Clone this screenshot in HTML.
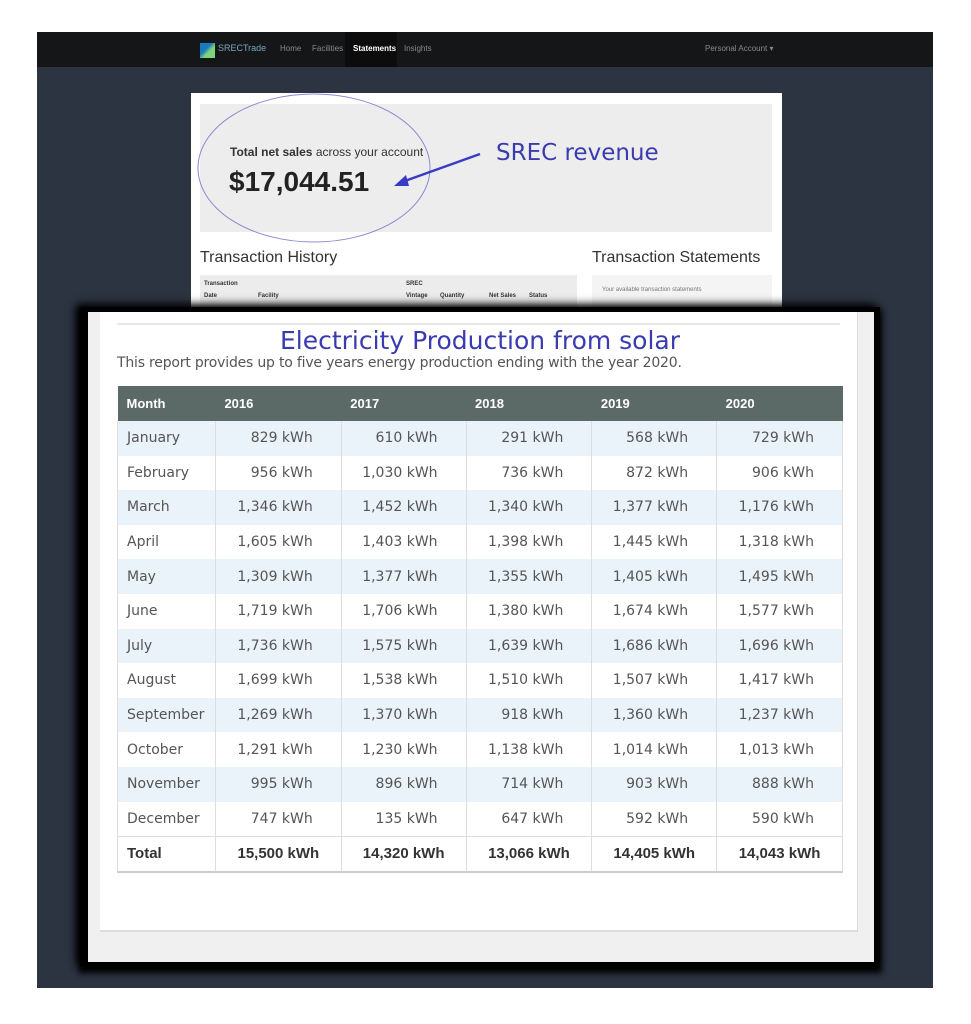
<!DOCTYPE html>
<html><head><meta charset="utf-8">
<style>
*{box-sizing:border-box;margin:0;padding:0}
body{width:971px;height:1024px;background:#fff;position:relative;overflow:hidden;font-family:"DejaVu Sans","Liberation Sans",sans-serif}
.abs{position:absolute}
#bg{left:37px;top:32px;width:896px;height:956px;background:#2c3441}
#nav{left:37px;top:32px;width:896px;height:35px;background:#151617}
.nv{position:absolute;top:12px;font:8px "Liberation Sans",sans-serif;color:#8a8a8a}
#top{left:191px;top:93px;width:591px;height:240px;background:#fff}
#jumbo{left:200px;top:104px;width:572px;height:128px;background:#ededed}
#blk{left:80px;top:307px;width:800px;height:660px;background:#000;box-shadow:-4px -3px 8px #000,0 4px 6px 2px #000}
#front{left:88px;top:312px;width:786px;height:650px;background:#f0f0f0}
#inner{left:100px;top:312px;width:758px;height:620px;background:#fff;border-right:1px solid #ddd;border-bottom:2px solid #ddd}
table{border-collapse:collapse;position:absolute;left:117px;top:386px;width:726px;font-size:14px;color:#555}
th{background:#5c6a67;color:#fff;font:bold 13px "Liberation Sans",sans-serif;text-align:left;height:35px;padding-left:9px}
td{height:34.6px;border-left:1px solid #ddd;border-right:1px solid #ddd;text-align:right;padding-right:28px}
td.m{text-align:left;padding-left:9px;padding-right:0}
tr.o td{background:#eaf2fa}
tr.t td{font:bold 15px "Liberation Sans",sans-serif;color:#333;height:36px;border-top:1px solid #ddd;border-bottom:2px solid #ccc;background:#fff;padding-right:0;text-align:center}
tr.t td.m{text-align:left}
</style></head><body>
<div id="bg" class="abs"></div>
<div id="nav" class="abs">
 <div class="abs" style="left:163px;top:11px;width:15px;height:15px;background:linear-gradient(135deg,#1a7ac0 40%,#7fd37a 60%)"></div>
 <div class="nv" style="left:181px;top:11px;font-size:9px;color:#7ab" >SRECTrade</div>
 <div class="nv" style="left:243px">Home</div>
 <div class="nv" style="left:275px">Facilities</div>
 <div class="nv" style="left:308px;top:0;height:35px;width:52px;background:#0c0c0c"></div>
 <div class="nv" style="left:316px;color:#fff;font-weight:bold">Statements</div>
 <div class="nv" style="left:367px">Insights</div>
 <div class="nv" style="left:668px">Personal Account ▾</div>
</div>
<div id="top" class="abs"></div>
<div id="jumbo" class="abs"></div>
<svg class="abs" style="left:190px;top:90px" width="500" height="160">
 <ellipse cx="124" cy="78" rx="116" ry="74" fill="none" stroke="#8a8acf" stroke-width="1"/>
 <line x1="290" y1="64" x2="212" y2="92" stroke="#3a3ac8" stroke-width="2.5"/>
 <polygon points="204,96 216,85 219,96" fill="#3a3ac8"/>
 <text x="306" y="70" font-family="DejaVu Sans,sans-serif" font-size="23" fill="#3b3bb0">SREC revenue</text>
</svg>
<div class="abs" style="left:230px;top:145px;font:12px 'Liberation Sans',sans-serif;color:#333"><b>Total net sales</b> across your account</div>
<div class="abs" style="left:229px;top:166px;font:bold 28px 'Liberation Sans',sans-serif;color:#222">$17,044.51</div>
<div class="abs" style="left:200px;top:249px;font:16px 'Liberation Sans',sans-serif;color:#333">Transaction History</div>
<div class="abs" style="left:592px;top:249px;font:16px 'Liberation Sans',sans-serif;color:#333">Transaction Statements</div>
<div class="abs" style="left:200px;top:275px;width:377px;height:35px;background:#ececec;font:bold 6px 'Liberation Sans',sans-serif;color:#333">
 <span class="abs" style="left:4px;top:6px">Transaction<br><br>Date</span><span class="abs" style="left:58px;top:18px">Facility</span><span class="abs" style="left:206px;top:6px">SREC<br><br>Vintage</span><span class="abs" style="left:240px;top:18px">Quantity</span><span class="abs" style="left:289px;top:18px">Net Sales</span><span class="abs" style="left:329px;top:18px">Status</span>
</div>
<div class="abs" style="left:592px;top:275px;width:180px;height:35px;background:#f4f4f4;font:6px 'Liberation Sans',sans-serif;color:#777;padding:12px 10px">Your available transaction statements</div>
<div id="blk" class="abs"></div>
<div id="front" class="abs"></div>
<div id="inner" class="abs"></div>
<div class="abs" style="left:117px;top:323px;width:723px;height:2px;background:#e8e8e8"></div>
<div class="abs" style="left:117px;top:326px;width:726px;text-align:center;font:25px 'DejaVu Sans',sans-serif;color:#3b3bb0">Electricity Production from solar</div>
<div class="abs" style="left:117px;top:355px;font:14px 'DejaVu Sans',sans-serif;color:#555;letter-spacing:-0.2px">This report provides up to five years energy production ending with the year 2020.</div>
<table id="tbl"></table>
<script>
const months=["January","February","March","April","May","June","July","August","September","October","November","December"];
const years=["2016","2017","2018","2019","2020"];
const v2016=[829,956,1346,1605,1309,1719,1736,1699,1269,1291,995,747];
const v2017=[610,1030,1452,1403,1377,1706,1575,1538,1370,1230,896,135];
const v2018=[291,736,1340,1398,1355,1380,1639,1510,918,1138,714,647];
const v2019=[568,872,1377,1445,1405,1674,1686,1507,1360,1014,903,592];
const v2020=[729,906,1176,1318,1495,1577,1696,1417,1237,1013,888,590];
const totals=[15500,14320,13066,14405,14043];
const series=[v2016,v2017,v2018,v2019,v2020];
const widths=[98,126,125,126,125,126];
const fmt=n=>n.toLocaleString('en-US')+' kWh';
const t=document.getElementById('tbl');
const hr=document.createElement('tr');
["Month"].concat(years).forEach((h,i)=>{const th=document.createElement('th');th.textContent=h;th.style.width=widths[i]+'px';


hr.appendChild(th);});
t.appendChild(hr);
months.forEach((m,r)=>{const tr=document.createElement('tr');if(r%2===0)tr.className='o';


const c=document.createElement('td');c.className='m';c.textContent=m;tr.appendChild(c);
series.forEach((s,i)=>{const td=document.createElement('td');td.textContent=fmt(s[r]);


tr.appendChild(td);});
t.appendChild(tr);});
const tt=document.createElement('tr');tt.className='t';


const tc=document.createElement('td');tc.className='m';tc.textContent='Total';tt.appendChild(tc);
totals.forEach((v,i)=>{const td=document.createElement('td');td.textContent=fmt(v);


tt.appendChild(td);});
t.appendChild(tt);
</script>
</body></html>
